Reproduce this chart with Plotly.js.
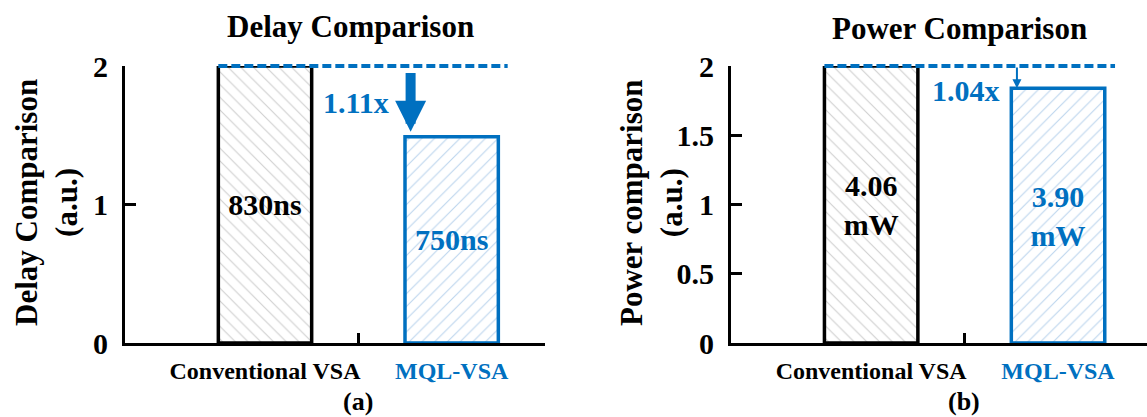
<!DOCTYPE html>
<html>
<head>
<meta charset="utf-8">
<script src="https://cdn.plot.ly/plotly-3.0.1.min.js"></script>
<style>html,body{margin:0;padding:0;background:#fff;}#chart{width:1147px;height:417px;}</style>
</head>
<body>
<div id="chart"></div>
<script>
// ---- data ----
const categories = ['Conventional VSA', 'MQL-VSA'];
const delayNs = [830, 750];
const delayNorm = [2, 1.49];          // bar heights as drawn (a.u.)
const delayText = ['830ns', '750ns'];
const powerMw = [4.06, 3.90];
const powerNorm = [2, 1.84];          // bar heights as drawn (a.u.)
const powerText = ['4.06<br>mW', '3.90<br>mW'];
const delayTicks = [0, 1, 2];
const powerTicks = [0, 0.5, 1, 1.5, 2];
const dividerTicks = [0.5, 1.5];

// ---- style ----
const BLUE = '#0070C0';
const FONT = '"Liberation Serif", "Times New Roman", serif';
const W = 1147, H = 417;
const barColors = ['#000000', BLUE];
const hatchColors = ['#cfcfcf', '#bcd5ee'];
const hatchShapes = ['\\', '/'];
const px = v => v / W, py = v => 1 - v / H;
const Y_RANGE = [0, 2];

function barTrace(vals, txt, xa, ya, size) {
  return {
    type: 'bar', x: categories, y: vals, xaxis: xa, yaxis: ya,
    width: 0.5, text: txt, textposition: 'inside', insidetextanchor: 'middle',
    constraintext: 'none', textangle: 0, cliponaxis: false,
    textfont: {family: FONT, size: size, weight: 'bold', color: barColors},
    marker: {color: 'white', line: {color: barColors, width: 3.5},
      pattern: {shape: hatchShapes, fgcolor: hatchColors, bgcolor: 'white', size: 9, solidity: 0.12}},
    hoverinfo: 'skip', showlegend: false
  };
}

const catTickText = categories.map((c, i) => `<span style="color:${barColors[i]}">${c}</span>`);

const traces = [
  barTrace(delayNorm, delayText, 'x', 'y', 30),
  barTrace(powerNorm, powerText, 'x2', 'y2', 30),
  {type: 'scatter', x: [], y: [], xaxis: 'x3', yaxis: 'y', showlegend: false, hoverinfo: 'skip'},
  {type: 'scatter', x: [], y: [], xaxis: 'x4', yaxis: 'y2', showlegend: false, hoverinfo: 'skip'}
];

const yDom = [1 - 343 / H, 1 - 66 / H];
const xDomL = [125 / W, 545 / W];
const xDomR = [731 / W, 1];
const rangeL = [-0.75, 1.5];
const rangeR = [-0.75, 1.476];

function catAxis(dom, rng, anchor) {
  return {domain: dom, anchor: anchor, type: 'category', range: rng,
    tickvals: categories, ticktext: catTickText, ticks: '', ticklabelstandoff: 4,
    tickfont: {family: FONT, size: 24, weight: 'bold'},
    showline: true, linecolor: 'black', linewidth: 3, showgrid: false, zeroline: false, fixedrange: true};
}
function divAxis(over, rng, anchor) {
  return {overlaying: over, anchor: anchor, type: 'linear', range: rng,
    tickvals: dividerTicks, ticks: 'inside', ticklen: 10, tickwidth: 3, tickcolor: 'black',
    showticklabels: false, showline: false, showgrid: false, zeroline: false, fixedrange: true};
}
function valAxis(dom, tv, anchor, fs) {
  return {domain: dom, anchor: anchor, range: Y_RANGE, tickvals: tv,
    ticks: 'inside', ticklen: 11, tickwidth: 3, tickcolor: 'black', ticklabelstandoff: 8,
    tickfont: {family: FONT, size: fs, weight: 'bold', color: 'black'},
    showline: true, linecolor: 'black', linewidth: 3, showgrid: false, zeroline: false, fixedrange: true};
}

const ratioDelay = (delayNs[0] / delayNs[1]).toFixed(2) + 'x';
const ratioPower = (powerMw[0] / powerMw[1]).toFixed(2) + 'x';

const bold = (t, size, color, extra) => Object.assign({text: t, showarrow: false,
  font: {family: FONT, size: size, weight: 'bold', color: color || 'black'}}, extra);

const annotations = [
  bold('Delay Comparison', 31, 'black', {xref: 'paper', yref: 'paper', x: px(350), y: py(26), xanchor: 'center', yanchor: 'middle'}),
  bold('Power Comparison', 31, 'black', {xref: 'paper', yref: 'paper', x: px(960), y: py(28), xanchor: 'center', yanchor: 'middle'}),
  bold('Delay Comparison<br>(a.u.)', 31, 'black', {xref: 'paper', yref: 'paper', x: px(46), y: py(203), textangle: -90, xanchor: 'center', yanchor: 'middle'}),
  bold('Power comparison<br>(a.u.)', 31, 'black', {xref: 'paper', yref: 'paper', x: px(651), y: py(203), textangle: -90, xanchor: 'center', yanchor: 'middle'}),
  bold('(a)', 26, 'black', {xref: 'paper', yref: 'paper', x: px(358), y: py(401), xanchor: 'center', yanchor: 'middle'}),
  bold('(b)', 26, 'black', {xref: 'paper', yref: 'paper', x: px(964), y: py(401), xanchor: 'center', yanchor: 'middle'}),
  bold(ratioDelay, 30, BLUE, {xref: 'x', yref: 'y', x: 0.487, y: 1.733, xanchor: 'center', yanchor: 'middle'}),
  bold(ratioPower, 30, BLUE, {xref: 'x2', yref: 'y2', x: 0.508, y: 1.82, xanchor: 'center', yanchor: 'middle'}),
  {xref: 'x', yref: 'y', axref: 'x', ayref: 'y', x: 0.78, y: delayNorm[1] + 0.035, ax: 0.78, ay: delayNorm[0] - 0.04,
   text: '', showarrow: true, arrowhead: 2, arrowsize: 0.62, arrowwidth: 10, arrowcolor: BLUE},
  {xref: 'x2', yref: 'y2', axref: 'x2', ayref: 'y2', x: 0.78, y: powerNorm[1], ax: 0.78, ay: powerNorm[0],
   text: '', showarrow: true, arrowhead: 2, arrowsize: 0.9, arrowwidth: 2, arrowcolor: BLUE}
];

// reference (baseline) level lines, placed in axis-domain units so they are not clipped at the top edge
const shapes = [
  {type: 'line', xref: 'x', yref: 'y domain', x0: -0.25, x1: 1.30,
   y0: delayNorm[0] / Y_RANGE[1], y1: delayNorm[0] / Y_RANGE[1],
   line: {color: BLUE, width: 4, dash: '9px,4px'}, layer: 'above'},
  {type: 'line', xref: 'x2', yref: 'y2 domain', x0: -0.25, x1: 1.305,
   y0: powerNorm[0] / Y_RANGE[1], y1: powerNorm[0] / Y_RANGE[1],
   line: {color: BLUE, width: 4, dash: '9px,4px'}, layer: 'above'}
];

const layout = {
  width: W, height: H, margin: {l: 0, r: 0, t: 0, b: 0},
  paper_bgcolor: 'white', plot_bgcolor: 'rgba(0,0,0,0)',
  showlegend: false, bargap: 0,
  xaxis: catAxis(xDomL, rangeL, 'y'),
  yaxis: valAxis(yDom, delayTicks, 'x', 30),
  xaxis2: catAxis(xDomR, rangeR, 'y2'),
  yaxis2: valAxis(yDom, powerTicks, 'x2', 30),
  xaxis3: divAxis('x', rangeL, 'y'),
  xaxis4: divAxis('x2', rangeR, 'y2'),
  annotations: annotations, shapes: shapes
};

Plotly.newPlot('chart', traces, layout, {displayModeBar: false, staticPlot: true});
</script>
</body>
</html>
